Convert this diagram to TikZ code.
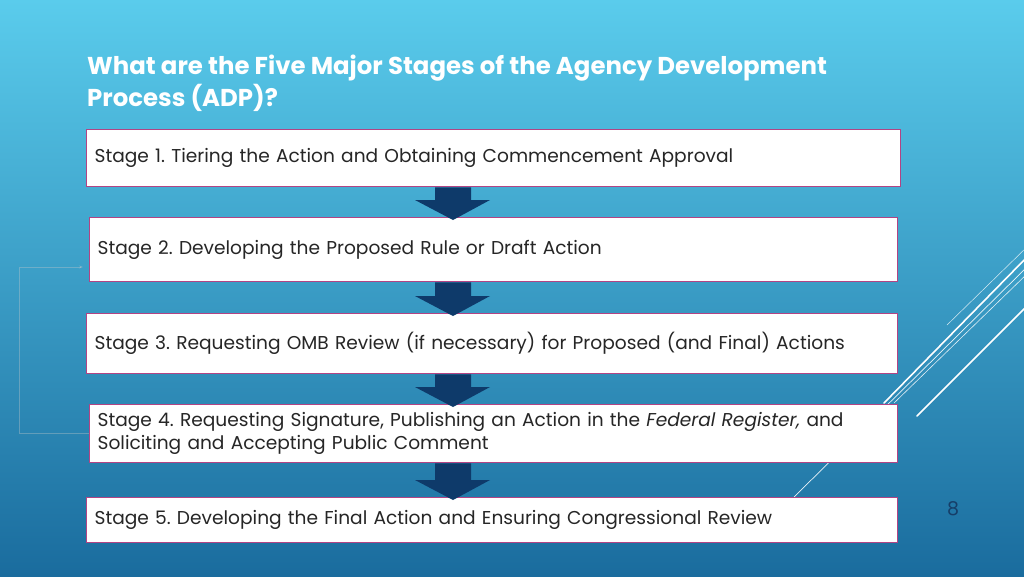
\documentclass[tikz,border=0pt]{standalone}
\usepackage{fontspec}
\setmainfont{Poppins}
\usetikzlibrary{calc,arrows.meta}
\frenchspacing
\definecolor{bgtop}{RGB}{90,204,236}
\definecolor{bgmid}{RGB}{56,162,208}
\definecolor{bgbot}{RGB}{26,108,158}
\definecolor{navy}{RGB}{14,58,106}
\definecolor{boxline}{RGB}{178,68,132}
\definecolor{pagenum}{RGB}{22,62,104}
\tikzset{
  stagebox/.style={draw=boxline, line width=1.3pt, fill=white, anchor=north west,
    inner xsep=8pt, inner ysep=2pt, align=left, text=black!85,
    font=\fontsize{18.6}{23}\selectfont},
  deco/.style={draw=white, line cap=round},
  faint/.style={draw=gray!40!white, opacity=0.35, line width=0.8pt},
  blockarrow/.style={fill=navy},
}
\newcommand\stagearrow[2]{%
  \fill[blockarrow] (435,0 |- #1.south) -- (471,0 |- #1.south)
    -- ($(471,0 |- #2.north)+(0,-17)$) -- ($(490,0 |- #2.north)+(0,-17)$)
    -- ($(453,0 |- #2.north)+(0,3)$)
    -- ($(415,0 |- #2.north)+(0,-17)$) -- ($(435,0 |- #2.north)+(0,-17)$) -- cycle;}
\begin{document}
\begin{tikzpicture}[x=1pt,y=-1pt]
\useasboundingbox (0,0) rectangle (1024,576);
\shade[top color=bgtop, middle color=bgmid, bottom color=bgbot] (0,0) rectangle (1024,576);
% decorative lines
\draw[deco, line width=0.5pt, opacity=0.8] (947,325) -- (1030,244);
\draw[deco, line width=1.6pt] (884,403) -- (1030,254);
\draw[deco, line width=0.7pt, opacity=0.9] (794,497) -- (1030,264);
\draw[deco, line width=0.6pt, opacity=0.85] (894,403) -- (1030,271);
\draw[deco, line width=1.6pt] (917,416) -- (1030,303);
% title
\node[anchor=north west, text=white, align=left, inner sep=0pt,
  font=\fontsize{24.4}{32}\selectfont\bfseries] (title) at (87,55)
  {What are the Five Major Stages of the Agency Development\\Process (ADP)?};
% boxes
\node[stagebox, minimum height=57pt, text width=798pt] (s1) at (86,129)
  {Stage 1. Tiering the Action and Obtaining Commencement Approval};
\node[stagebox, minimum height=64pt, text width=792pt] (s2) at (89,217)
  {Stage 2. Developing the Proposed Rule or Draft Action};
\node[stagebox, minimum height=60pt, text width=795pt] (s3) at (86,313)
  {Stage 3. Requesting OMB Review (if necessary) for Proposed (and Final) Actions};
\node[stagebox, minimum height=58pt, text width=792pt] (s4) at (89,404)
  {Stage 4. Requesting Signature, Publishing an Action in the \textit{Federal Register,} and\\Soliciting and Accepting Public Comment};
\node[stagebox, minimum height=45pt, text width=795pt] (s5) at (86,497)
  {Stage 5. Developing the Final Action and Ensuring Congressional Review};
% arrows
\stagearrow{s1}{s2}
\stagearrow{s2}{s3}
\stagearrow{s3}{s4}
\stagearrow{s4}{s5}
% faint connector
\coordinate (ret) at (83,267);
\draw[faint, -{Stealth[length=4pt,width=3pt]}] (s4.west) -- (19,0 |- s4.west) -- (19,0 |- ret) -- (ret);
% page number
\node[text=pagenum, font=\fontsize{19}{22}\selectfont] (pg) at (953,509) {8};
\end{tikzpicture}
\end{document}
